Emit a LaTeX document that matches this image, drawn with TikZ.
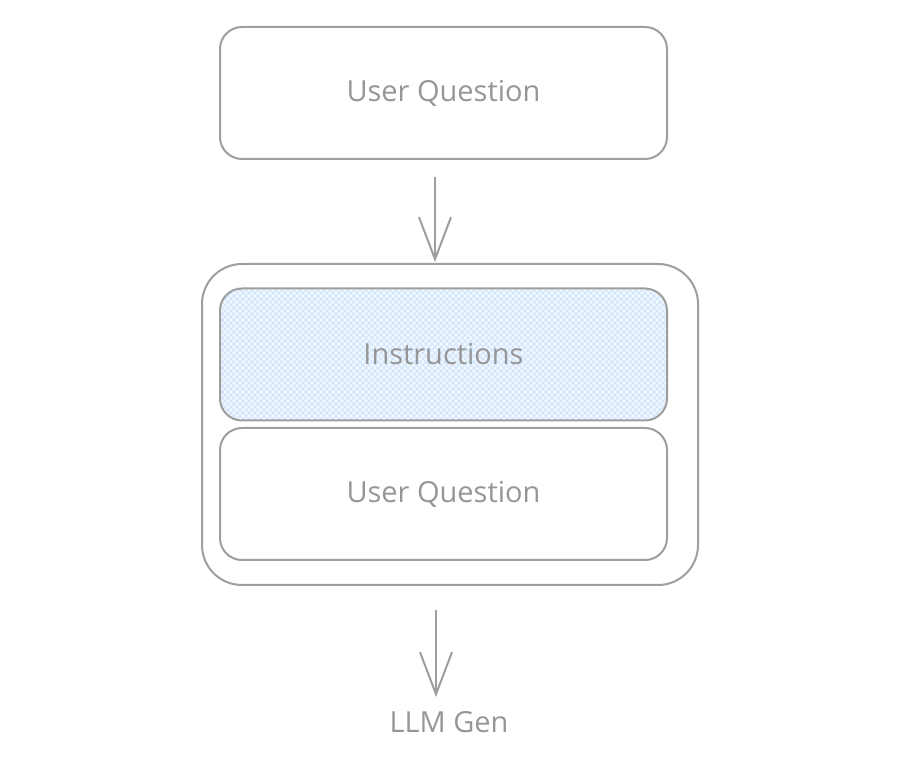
\documentclass[tikz,border=0pt]{standalone}
\usepackage{fontspec}
\setmainfont{Open Sans}
\usepackage{tikz}
\usetikzlibrary{arrows.meta}
\usetikzlibrary{patterns}

\definecolor{strokegray}{HTML}{9E9E9E}
\definecolor{textgray}{HTML}{969696}
\definecolor{hatchblue}{HTML}{CFE5FB}
\definecolor{paleblue}{HTML}{F1F7FE}

\begin{document}
\begin{tikzpicture}[x=0.5pt,y=-0.5pt,
            box node/.style={rectangle, rounded corners=11pt, draw=strokegray, line width=1pt, text=textgray, font=\fontsize{14.5}{16}\selectfont, minimum width=223.5pt, minimum height=66pt},
            hatch node/.style={box node, preaction={fill=paleblue}, preaction={pattern=north east lines, pattern color=hatchblue}, preaction={pattern=north west lines, pattern color=hatchblue}},
            frame node/.style={rectangle, rounded corners=20pt, draw=strokegray, line width=1pt, minimum width=248pt, minimum height=160.5pt},
            flow arrow/.style={draw=strokegray, line width=1pt, -{Straight Barb[length=21pt, width=16pt, line width=1pt]}},
            ]
            \useasboundingbox (0,0) rectangle (900,764);

            \node[box node] (question) at (443.5,93) {User Question};
            \node[frame node] (prompt) at (450,424.5) {};
            \node[hatch node] (instr) at (443.5,354.5) {Instructions};
            \node[box node] (inner) at (443.5,494) {User Question};
            \node[text=textgray, font=\fontsize{14.5}{16}\selectfont] (gen) at (449,722) {LLM Gen};

            \coordinate (a1) at (435,177);
            \coordinate (a2) at (435,262);
            \coordinate (b1) at (436,610);
            \coordinate (b2) at (436,697);

            \draw[flow arrow] (a1) -- (a2);
            \draw[flow arrow] (b1) -- (b2);
        \end{tikzpicture}
\end{document}
